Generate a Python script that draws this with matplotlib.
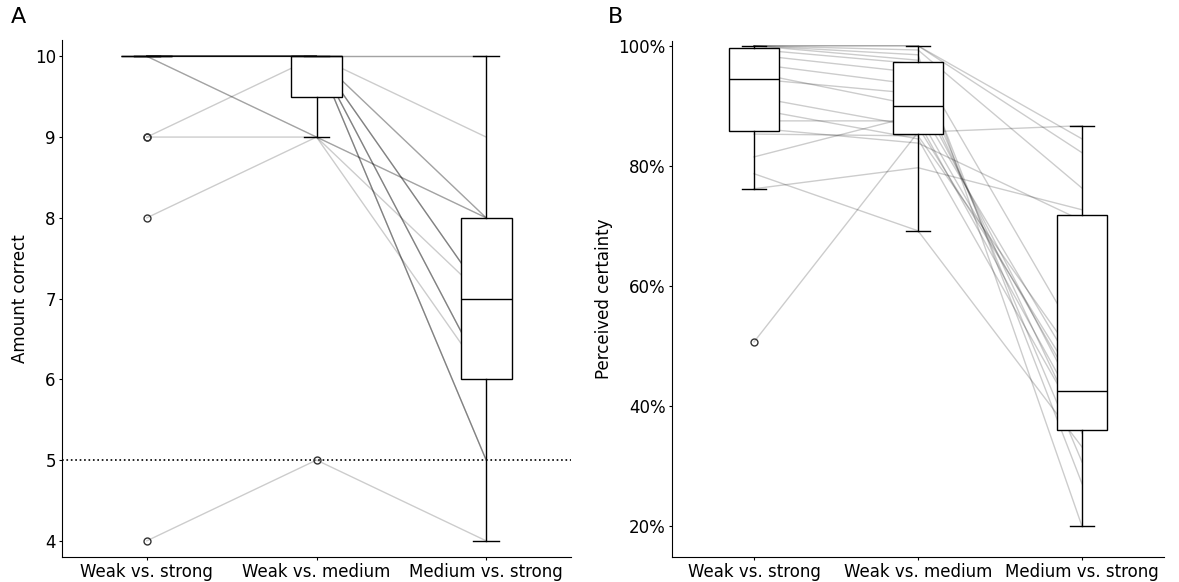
import numpy as np
import matplotlib.pyplot as plt
from matplotlib.ticker import PercentFormatter

conditions = ["Weak vs. strong", "Weak vs. medium", "Medium vs. strong"]

# amount correct (out of 10) per participant, one list per condition
correct_weak_strong = [4, 8, 9, 9, 10, 10, 10, 10, 10, 10, 10, 10, 10, 10, 10, 10, 10, 10, 10]
correct_weak_medium = [5, 9, 9, 10, 9, 9, 10, 10, 10, 10, 10, 10, 10, 10, 10, 10, 10, 10, 10]
correct_medium_strong = [4, 8, 8, 7, 7, 6, 10, 10, 9, 8, 8, 7, 7, 6, 6, 6, 5, 5, 5]

# perceived certainty (%) per participant
certainty_weak_strong = [50.7, 76.2, 78.7, 81.5, 85.3, 86.3, 87.5, 89.5, 91.5, 94.5,
                         95.5, 97.0, 98.5, 99.4, 100, 100, 100, 100, 100]
certainty_weak_medium = [85.6, 79.7, 69.2, 88.5, 85.0, 83.8, 87.5, 84.5, 86.5, 92.0,
                         90.0, 93.5, 95.5, 97.0, 97.6, 98.5, 99.3, 100, 100]
certainty_medium_strong = [86.7, 72.7, 33.2, 41.0, 46.5, 70.9, 38.0, 36.5, 42.5, 39.5,
                           44.0, 35.5, 30.7, 50.0, 27.1, 20.0, 76.3, 82.2, 84.5]

chance_level = 5

fig = plt.figure(figsize=(11.79, 5.82), dpi=100)
axA = fig.add_axes([0.0526, 0.043, 0.4317, 0.888])
axB = fig.add_axes([0.570, 0.043, 0.4173, 0.8866])


def paired_boxplot(ax, cols):
    pos = np.arange(1, len(cols) + 1)
    for row in zip(*cols):
        ax.plot(pos, row, color="black", alpha=0.2, lw=1, zorder=1)
    ax.boxplot(cols, positions=pos, patch_artist=True, zorder=2,
               boxprops=dict(facecolor="white", edgecolor="black", linewidth=1),
               medianprops=dict(color="black", linewidth=1),
               whiskerprops=dict(color="black", linewidth=1),
               capprops=dict(color="black", linewidth=1),
               flierprops=dict(marker="o", markerfacecolor="none",
                               markeredgecolor="#333333", markersize=5))
    ax.set_xticks(pos)
    ax.set_xticklabels(conditions, fontsize=12)
    ax.set_xlim(0.5, len(cols) + 0.5)
    ax.spines["top"].set_visible(False)
    ax.spines["right"].set_visible(False)
    ax.tick_params(labelsize=12, length=2.5, pad=2)


paired_boxplot(axA, [correct_weak_strong, correct_weak_medium, correct_medium_strong])
axA.axhline(chance_level, color="black", ls=":", lw=1.2, zorder=0)
axA.set_ylim(3.8, 10.2)
axA.set_ylabel("Amount correct", fontsize=12)

paired_boxplot(axB, [certainty_weak_strong, certainty_weak_medium, certainty_medium_strong])
axB.set_ylim(14.9, 100.8)
axB.set_yticks([20, 40, 60, 80, 100])
axB.yaxis.set_major_formatter(PercentFormatter(100, decimals=0))
axB.set_ylabel("Perceived certainty", fontsize=12)

fig.text(0.009, 0.988, "A", fontsize=16, va="top")
fig.text(0.516, 0.988, "B", fontsize=16, va="top")

plt.savefig("out.png", dpi=100)
